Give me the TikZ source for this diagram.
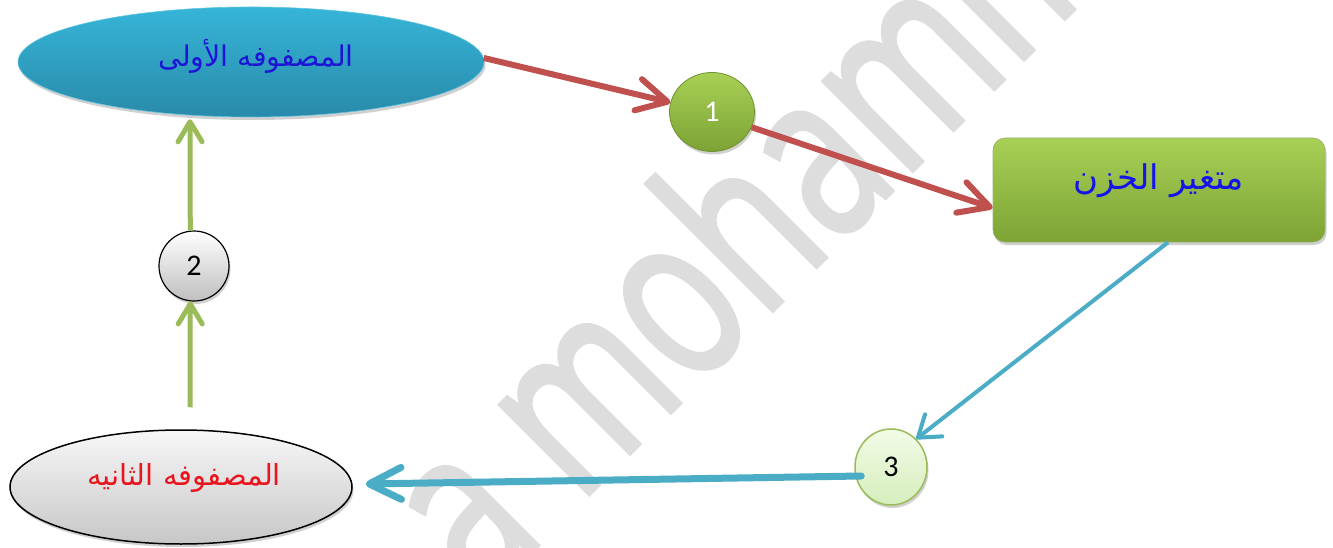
\documentclass[tikz,border=0pt]{standalone}
\usepackage{fontspec}
\usetikzlibrary{shapes.geometric,arrows.meta,shadows,calc}
\TeXXeTstate=1
\newfontfamily\arabicfont[Script=Arabic]{DejaVu Sans}
\newfontfamily\numfont{Carlito}
\newfontfamily\wmfont[FakeBold=2]{Open Sans}
\definecolor{wmgray}{RGB}{221,221,221}
\definecolor{redarrow}{RGB}{192,80,77}
\definecolor{bluearrow}{RGB}{75,172,198}
\definecolor{greenarrow}{RGB}{155,187,89}
\definecolor{blueTop}{RGB}{54,181,216}
\definecolor{blueBot}{RGB}{41,138,170}
\definecolor{greenTop}{RGB}{168,208,86}
\definecolor{greenBot}{RGB}{124,163,52}
\definecolor{greenEdge}{RGB}{110,145,45}
\definecolor{paleTop}{RGB}{242,251,232}
\definecolor{paleBot}{RGB}{214,238,188}
\definecolor{txtblue}{RGB}{30,20,215}
\definecolor{txtblue2}{RGB}{20,20,235}
\definecolor{txtred}{RGB}{232,20,30}
\begin{document}
\begin{tikzpicture}[x=1pt,y=-1pt,
  shade/.style={drop shadow={opacity=0.3,shadow xshift=1.5pt,shadow yshift=-3pt,fill=black!60}},
  arabic/.style={inner sep=0pt},
  num/.style={font=\numfont\fontsize{30}{32}\selectfont},
  bigellipse/.style={ellipse,inner sep=0pt,shade},
  smallcircle/.style={ellipse,inner sep=0pt,shade},
  storebox/.style={rectangle,rounded corners=12pt,inner sep=0pt,shade,
     top color=greenTop,bottom color=greenBot,draw=greenEdge!70,line width=0.6pt},
  redarr/.style={draw=redarrow,line width=6pt,-{Straight Barb[length=30pt,width=32pt,round]}},
  bluearr/.style={draw=bluearrow,line width=4pt,-{Straight Barb[length=20pt,width=28pt,round]}},
  bluearrthick/.style={draw=bluearrow,line width=7pt,line cap=round,-{Straight Barb[length=32pt,width=32pt,round]}},
  greenarr/.style={draw=greenarrow,line width=5pt,-{Straight Barb[length=20pt,width=24pt,round]}},
  wmtext/.style={text=wmgray,font=\wmfont\fontsize{235}{235}\selectfont,inner sep=0pt}
]
\useasboundingbox (0,0) rectangle (1333,548);
\fill[white] (0,0) rectangle (1333,548);
% watermark
\begin{scope}
  \clip (0,0) rectangle (1333,548);
  \node[wmtext,rotate=45,xscale=0.72,anchor=base west] (wm) at (481,602) {a mohammed};
\end{scope}
% nodes
\node[bigellipse,minimum width=466pt,minimum height=110pt,
      top color=blueTop,bottom color=blueBot,draw=blueTop!80,line width=0.6pt] (e1) at (251,62) {};
\node[arabic,text=txtblue,font=\arabicfont\fontsize{28.5}{32}\selectfont] (e1t) at (256,56) {\beginR المصفوفه الأولى\endR};
\node[smallcircle,minimum width=85pt,minimum height=79pt,
      top color=greenTop,bottom color=greenBot,draw=greenEdge,line width=0.8pt,
      text=white,num] (c1) at (712,112) {1};
\node[storebox,minimum width=332pt,minimum height=104pt] (store) at (1159,190) {};
\node[arabic,text=txtblue2,font=\arabicfont\fontsize{34}{38}\selectfont] (storet) at (1159,181) {\beginR متغير الخزن\endR};
\node[smallcircle,minimum width=70pt,minimum height=70pt,
      top color=white,bottom color=black!25,draw=black,line width=1.2pt,
      text=black,num] (c2) at (194,266) {2};
\node[smallcircle,minimum width=72pt,minimum height=76pt,
      top color=paleTop,bottom color=paleBot,draw=greenarrow,line width=1.5pt,
      text=black,num] (c3) at (891,467) {3};
\node[bigellipse,minimum width=342pt,minimum height=114pt,
      top color=black!3,bottom color=black!22,draw=black,line width=1.5pt] (e2) at (181,487) {};
\node[arabic,text=txtred,font=\arabicfont\fontsize{29}{32}\selectfont] (e2t) at (184,478) {\beginR المصفوفه الثانيه\endR};
% connectors
\coordinate (s1) at ($(store.west)+(0,18)$);
\coordinate (b1) at ($(store.south)+(9,0)$);
\coordinate (b2s) at ($(c3.west)+(7,9)$);
\coordinate (b2e) at ($(e2.east)+(13,-3)$);
\coordinate (g1s) at ($(e2.north)+(9,-22)$);
\coordinate (g2e) at ($(e1.south)+(-61,2)$);
\draw[redarr] (e1.1) -- (c1.167);
\draw[redarr] (c1.-21) -- (s1);
\draw[bluearr] (b1) -- (c3.48);
\draw[bluearrthick] (b2s) -- (b2e);
\draw[greenarr] (g1s) -- (c2.264);
\draw[greenarr] (c2.96) -- (g2e);
\end{tikzpicture}
\end{document}
